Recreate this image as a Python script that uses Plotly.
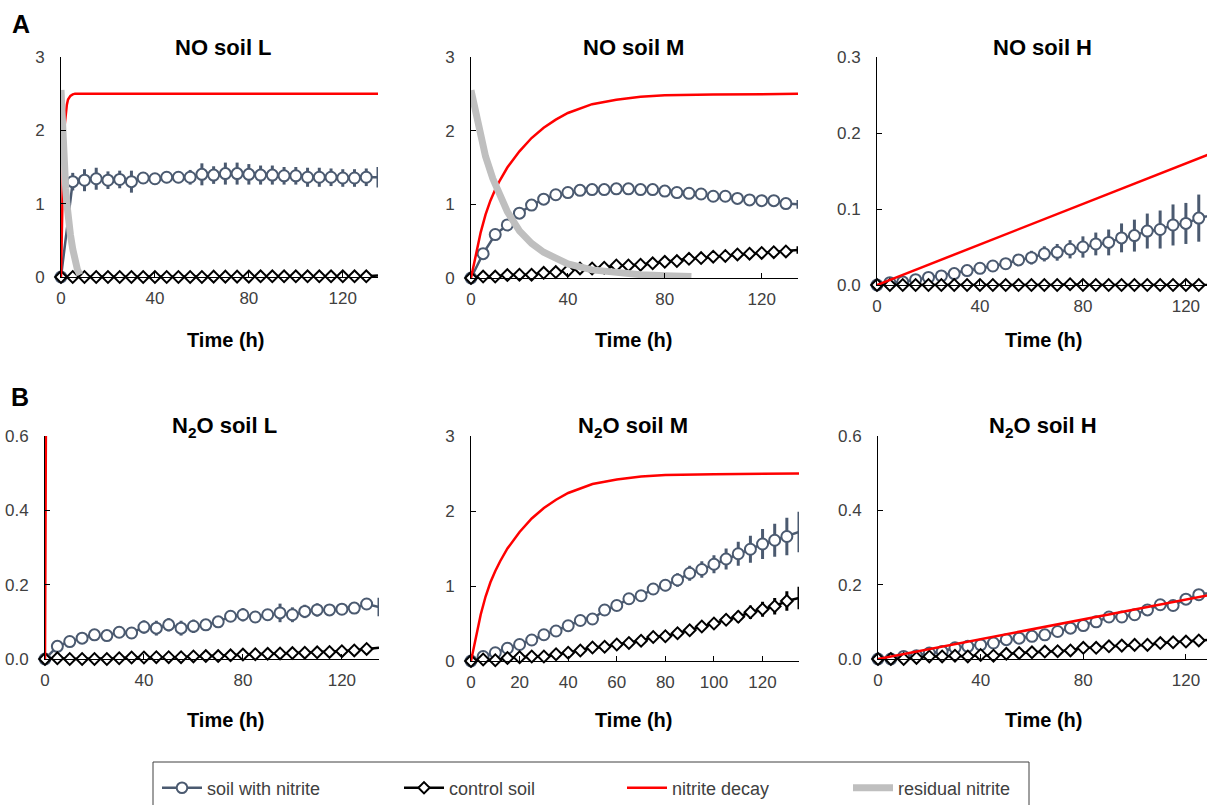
import plotly.graph_objects as go

# ---------------- data ----------------
time_h = [0, 5, 10, 15, 20, 25, 30, 35, 40, 45, 50, 55, 60, 65, 70,
          75, 80, 85, 90, 95, 100, 105, 110, 115, 120, 125, 130, 135]

# NO, soil L
no_L_soil = [0, 1.30, 1.32, 1.34, 1.32, 1.33, 1.30, 1.35, 1.34, 1.36, 1.36, 1.36, 1.40, 1.39,
             1.41, 1.41, 1.40, 1.39, 1.39, 1.38, 1.38, 1.36, 1.36, 1.36, 1.35, 1.35, 1.36, 1.36]
no_L_soil_err = [0, 0.12, 0.15, 0.15, 0.12, 0.12, 0.15, 0.06, 0.05, 0.08, 0.08, 0.10, 0.15, 0.12,
                 0.15, 0.15, 0.14, 0.13, 0.13, 0.12, 0.12, 0.13, 0.13, 0.12, 0.12, 0.12, 0.12, 0.14]
no_L_ctrl = [0, 0, 0, 0, 0, 0, 0, 0, 0, 0, 0, 0, 0, 0.005,
             0.005, 0.005, 0.005, 0.01, 0.01, 0.01, 0.01, 0.01, 0.01, 0.01, 0.01, 0.01, 0.01, 0.02]

# NO, soil M
no_M_soil = [0, 0.33, 0.59, 0.72, 0.88, 0.99, 1.07, 1.13, 1.16, 1.19, 1.20, 1.20, 1.21, 1.21,
             1.20, 1.20, 1.18, 1.16, 1.15, 1.14, 1.11, 1.11, 1.08, 1.06, 1.05, 1.05, 1.01, 1.00]
no_M_soil_err = [0, 0.02, 0.02, 0.02, 0.02, 0.02, 0.02, 0.02, 0.02, 0.02, 0.02, 0.02, 0.02, 0.02,
                 0.02, 0.02, 0.02, 0.02, 0.02, 0.02, 0.02, 0.02, 0.02, 0.03, 0.03, 0.03, 0.04, 0.06]
no_M_ctrl = [0, 0.02, 0.02, 0.04, 0.045, 0.045, 0.07, 0.08, 0.10, 0.13, 0.13, 0.14, 0.17, 0.17,
             0.18, 0.20, 0.22, 0.23, 0.26, 0.27, 0.29, 0.30, 0.32, 0.33, 0.34, 0.35, 0.36, 0.38]
no_M_ctrl_err = [0, 0.01, 0.01, 0.01, 0.01, 0.01, 0.01, 0.01, 0.01, 0.01, 0.01, 0.01, 0.01, 0.01,
                 0.01, 0.01, 0.01, 0.01, 0.02, 0.02, 0.02, 0.02, 0.02, 0.02, 0.03, 0.03, 0.03, 0.05]

# NO, soil H
no_H_soil = [0, 0.003, 0.004, 0.007, 0.010, 0.012, 0.015, 0.019, 0.022, 0.025, 0.028, 0.033, 0.036, 0.041,
             0.043, 0.047, 0.050, 0.054, 0.056, 0.062, 0.065, 0.071, 0.073, 0.079, 0.081, 0.088, 0.092, 0.096]
no_H_soil_err = [0, 0.001, 0.001, 0.002, 0.002, 0.003, 0.003, 0.004, 0.005, 0.006, 0.006, 0.007, 0.009, 0.010,
                 0.011, 0.012, 0.014, 0.015, 0.017, 0.019, 0.021, 0.023, 0.025, 0.027, 0.027, 0.031, 0.032, 0.033]
no_H_ctrl = [0, 0, 0, 0, 0, 0, 0, 0, 0, 0, 0, 0, 0, 0,
             0, 0.001, 0, 0, 0, 0, 0, 0, 0, 0, 0, 0, 0, 0]

# N2O, soil L
n2o_L_soil = [0, 0.034, 0.047, 0.056, 0.065, 0.063, 0.072, 0.070, 0.086, 0.083, 0.092, 0.083, 0.088, 0.092,
              0.100, 0.115, 0.119, 0.113, 0.119, 0.124, 0.119, 0.128, 0.132, 0.132, 0.134, 0.137, 0.148, 0.140]
n2o_L_soil_err = [0, 0.008, 0.012, 0.010, 0.012, 0.010, 0.015, 0.015, 0.018, 0.020, 0.018, 0.020, 0.018, 0.015,
                  0.015, 0.015, 0.018, 0.015, 0.015, 0.025, 0.020, 0.018, 0.018, 0.012, 0.015, 0.015, 0.012, 0.025]
n2o_L_ctrl = [0, 0.002, 0, 0, 0, 0, 0.002, 0.004, 0.004, 0.005, 0.005, 0.005, 0.007, 0.008,
              0.008, 0.010, 0.012, 0.013, 0.014, 0.015, 0.016, 0.017, 0.018, 0.019, 0.021, 0.023, 0.027, 0.030]

# N2O, soil M
n2o_M_soil = [0, 0.06, 0.11, 0.17, 0.22, 0.28, 0.35, 0.40, 0.47, 0.54, 0.56, 0.68, 0.74, 0.83,
              0.87, 0.96, 1.01, 1.08, 1.17, 1.22, 1.29, 1.36, 1.43, 1.49, 1.56, 1.61, 1.66, 1.72]
n2o_M_soil_err = [0, 0.01, 0.01, 0.01, 0.01, 0.01, 0.02, 0.02, 0.02, 0.03, 0.03, 0.03, 0.04, 0.05,
                  0.06, 0.07, 0.08, 0.09, 0.10, 0.11, 0.12, 0.14, 0.16, 0.18, 0.20, 0.22, 0.25, 0.27]
n2o_M_ctrl = [0, 0.02, 0.01, 0.04, 0.05, 0.06, 0.06, 0.09, 0.11, 0.14, 0.18, 0.19, 0.22, 0.24,
              0.27, 0.32, 0.33, 0.37, 0.41, 0.46, 0.50, 0.55, 0.59, 0.65, 0.69, 0.73, 0.80, 0.84]
n2o_M_ctrl_err = [0, 0.01, 0.01, 0.01, 0.01, 0.01, 0.01, 0.01, 0.01, 0.01, 0.01, 0.01, 0.01, 0.02,
                  0.02, 0.02, 0.02, 0.03, 0.03, 0.05, 0.06, 0.07, 0.08, 0.09, 0.10, 0.11, 0.13, 0.15]

# N2O, soil H
n2o_H_soil = [0, 0.0, 0.007, 0.009, 0.016, 0.020, 0.030, 0.034, 0.038, 0.043, 0.052, 0.056, 0.061, 0.065,
              0.074, 0.083, 0.090, 0.100, 0.113, 0.113, 0.119, 0.132, 0.146, 0.144, 0.161, 0.173, 0.178, 0.185]
n2o_H_ctrl = [0, 0, 0, 0.003, 0.007, 0.007, 0.009, 0.007, 0.011, 0.009, 0.014, 0.016, 0.018, 0.020,
              0.021, 0.023, 0.030, 0.030, 0.034, 0.036, 0.038, 0.038, 0.043, 0.045, 0.047, 0.050, 0.052, 0.054]

# model curves: nitrite decay (red) and residual nitrite (grey)
decay_L_t = [0, 0.25, 0.5, 0.75, 1, 1.5, 2, 2.5, 3, 4, 5, 6, 8, 10, 135]
decay_L = [0, 0.6, 1.1, 1.45, 1.7, 2.05, 2.25, 2.35, 2.42, 2.47, 2.49, 2.5, 2.5, 2.5, 2.5]
residual_L_t = [0, 0.5, 1, 1.5, 2, 2.5, 3, 4, 5, 6, 7, 8]
residual_L = [2.55, 2.1, 1.75, 1.45, 1.2, 1.0, 0.82, 0.58, 0.38, 0.22, 0.1, 0.03]

decay_M_t = [0, 2, 4, 6, 8, 10, 12, 15, 20, 25, 30, 35, 40, 50, 60, 70, 80, 100, 135]
decay_M = [0, 0.33, 0.62, 0.86, 1.05, 1.2, 1.33, 1.5, 1.72, 1.9, 2.04, 2.15, 2.24, 2.36, 2.42, 2.46, 2.48, 2.49, 2.5]
residual_M_t = [0, 3, 6, 9, 12, 15, 20, 25, 30, 35, 40, 50, 60, 70, 80, 91]
residual_M = [2.55, 2.05, 1.65, 1.35, 1.1, 0.9, 0.64, 0.47, 0.35, 0.26, 0.19, 0.11, 0.07, 0.045, 0.03, 0.02]

decay_H_t = [0, 135]
decay_H = [0, 0.18]

series_names = ["soil with nitrite", "control soil", "nitrite decay", "residual nitrite"]
panel_titles = ["NO soil L", "NO soil M", "NO soil H",
                "N<sub>2</sub>O soil L", "N<sub>2</sub>O soil M", "N<sub>2</sub>O soil H"]
x_title = "Time (h)"

# ---------------- layout helpers ----------------
W, H = 1207, 805
FONT = "Liberation Sans, Arial, sans-serif"
SOIL_C = "#4b5a70"
RED = "#ff0000"
GREY = "#bfbfbf"
TICK_C = "#404040"


def px_x(p):
    return p / W


def px_y(p):
    return 1 - p / H


# panel boxes in pixels: (left, right, top, bottom)
panels = [
    dict(box=(61, 378, 57, 277), xmax=135, ymax=3, ydt=1, xdt=40, yfmt=""),
    dict(box=(471, 798, 57, 278), xmax=135, ymax=3, ydt=1, xdt=40, yfmt=""),
    dict(box=(877, 1207, 57, 285), xmax=128.2, ymax=0.3, ydt=0.1, xdt=40, yfmt=".1f"),
    dict(box=(45, 379, 436, 659), xmax=135, ymax=0.6, ydt=0.2, xdt=40, yfmt=".1f"),
    dict(box=(471, 799, 436, 661), xmax=135, ymax=3, ydt=1, xdt=20, yfmt=""),
    dict(box=(878, 1207, 436, 659), xmax=128.2, ymax=0.6, ydt=0.2, xdt=40, yfmt=".1f"),
]

fig = go.Figure()

marker_sizes = [11] * (len(time_h) - 1) + [0]
diamond_sizes = [9] * (len(time_h) - 1) + [0]


def add_errorbars(xa, ya, y, err, color):
    if err is None:
        return
    fig.add_trace(go.Scatter(
        x=time_h, y=y, mode="markers", xaxis=xa, yaxis=ya, showlegend=False,
        hoverinfo="skip", marker=dict(size=1, opacity=0),
        error_y=dict(type="data", array=err, color=color, thickness=3, width=0)))


def add_panel(i, soil, soil_err, ctrl, ctrl_err, dec_t, dec, res_t=None, res=None):
    ax = "" if i == 0 else str(i + 1)
    xa, ya = "x" + ax, "y" + ax
    first = i == 0
    add_errorbars(xa, ya, soil, soil_err, SOIL_C)
    add_errorbars(xa, ya, ctrl, ctrl_err, "black")
    fig.add_trace(go.Scatter(
        x=time_h, y=soil, mode="lines+markers", name=series_names[0],
        xaxis=xa, yaxis=ya, showlegend=first, legend="legend",
        line=dict(color=SOIL_C, width=2.5),
        marker=dict(symbol="circle", size=marker_sizes, color="#ffffff", opacity=1,
                    line=dict(color=SOIL_C, width=2)),
        cliponaxis=False))
    fig.add_trace(go.Scatter(
        x=time_h, y=ctrl, mode="lines+markers", name=series_names[1],
        xaxis=xa, yaxis=ya, showlegend=first, legend="legend2",
        line=dict(color="black", width=2.5),
        marker=dict(symbol="diamond", size=diamond_sizes, color="#ffffff", opacity=1,
                    line=dict(color="black", width=2)),
        cliponaxis=False))
    fig.add_trace(go.Scatter(
        x=dec_t, y=dec, mode="lines", name=series_names[2],
        xaxis=xa, yaxis=ya, showlegend=first, legend="legend3",
        line=dict(color=RED, width=2.5)))
    if res is not None:
        fig.add_trace(go.Scatter(
            x=res_t, y=res, mode="lines", name=series_names[3],
            xaxis=xa, yaxis=ya, showlegend=first, legend="legend4",
            line=dict(color=GREY, width=7)))


add_panel(0, no_L_soil, no_L_soil_err, no_L_ctrl, None, decay_L_t, decay_L, residual_L_t, residual_L)
add_panel(1, no_M_soil, no_M_soil_err, no_M_ctrl, no_M_ctrl_err, decay_M_t, decay_M, residual_M_t, residual_M)
add_panel(2, no_H_soil, no_H_soil_err, no_H_ctrl, None, decay_H_t, decay_H)
add_panel(3, n2o_L_soil, n2o_L_soil_err, n2o_L_ctrl, None, decay_L_t, decay_L)
add_panel(4, n2o_M_soil, n2o_M_soil_err, n2o_M_ctrl, n2o_M_ctrl_err, decay_M_t, decay_M)
add_panel(5, n2o_H_soil, None, n2o_H_ctrl, None, decay_H_t, decay_H)

layout = dict(
    width=W, height=H, margin=dict(l=0, r=0, t=0, b=0, autoexpand=False),
    paper_bgcolor="white", plot_bgcolor="white",
    font=dict(family=FONT, size=17, color=TICK_C),
)
for i, p in enumerate(panels):
    l, r, t, b = p["box"]
    ax = "" if i == 0 else str(i + 1)
    layout["xaxis" + ax] = dict(
        domain=[px_x(l), px_x(r)], range=[0, p["xmax"]], anchor="y" + ax,
        showgrid=False, zeroline=False, showline=True, linecolor="black", linewidth=1,
        ticks="inside", ticklen=5, tickcolor="black", tickmode="linear", tick0=0, dtick=p["xdt"],
        ticklabelstandoff=6, tickfont=dict(size=17, color=TICK_C, family=FONT))
    layout["yaxis" + ax] = dict(
        domain=[px_y(b), px_y(t)], range=[0, p["ymax"]], anchor="x" + ax,
        showgrid=False, zeroline=False, showline=True, linecolor="black", linewidth=1,
        ticks="inside", ticklen=5, tickcolor="black", tickmode="linear", tick0=0, dtick=p["ydt"],
        tickformat=p["yfmt"], ticklabelstandoff=12,
        tickfont=dict(size=17, color=TICK_C, family=FONT))

# legends (one per entry so each sits at its own place)
leg_y = px_y(788)
leg_common = dict(orientation="h", yanchor="middle", y=leg_y, xanchor="left",
                  bgcolor="rgba(0,0,0,0)", borderwidth=0, itemwidth=40,
                  font=dict(family=FONT, size=18, color=TICK_C))
layout["legend"] = dict(x=px_x(157), **leg_common)
layout["legend2"] = dict(x=px_x(399), **leg_common)
layout["legend3"] = dict(x=px_x(622), **leg_common)
layout["legend4"] = dict(x=px_x(848), **leg_common)

fig.update_layout(**layout)

# legend frame
fig.add_shape(type="rect", xref="paper", yref="paper",
              x0=px_x(153), x1=px_x(1029), y0=px_y(830), y1=px_y(762),
              line=dict(color="#404040", width=1), fillcolor="rgba(0,0,0,0)")

# titles and labels
title_pos = [(223, 48), (633, 48), (1042, 48), (224, 427), (633, 427), (1043, 427)]
for txt, (cx, cy) in zip(panel_titles, title_pos):
    fig.add_annotation(text="<b>%s</b>" % txt, x=px_x(cx), y=px_y(cy), xref="paper", yref="paper",
                       showarrow=False, xanchor="center", yanchor="middle",
                       font=dict(family=FONT, size=22, color="black"))
xt_pos = [(225, 340), (633, 340), (1043, 340), (225, 720), (633, 720), (1043, 720)]
for cx, cy in xt_pos:
    fig.add_annotation(text="<b>%s</b>" % x_title, x=px_x(cx), y=px_y(cy), xref="paper", yref="paper",
                       showarrow=False, xanchor="center", yanchor="middle",
                       font=dict(family=FONT, size=20, color="black"))
for lab, (cx, cy) in zip(["A", "B"], [(21, 24), (20, 397)]):
    fig.add_annotation(text="<b>%s</b>" % lab, x=px_x(cx), y=px_y(cy), xref="paper", yref="paper",
                       showarrow=False, xanchor="center", yanchor="middle",
                       font=dict(family=FONT, size=25, color="black"))

# remove the default page margin so the figure sits at the window's top-left corner
fig.write_html("out.html", config={"displayModeBar": False},
               post_script="document.body.style.margin='0';document.body.style.overflow='hidden';")
